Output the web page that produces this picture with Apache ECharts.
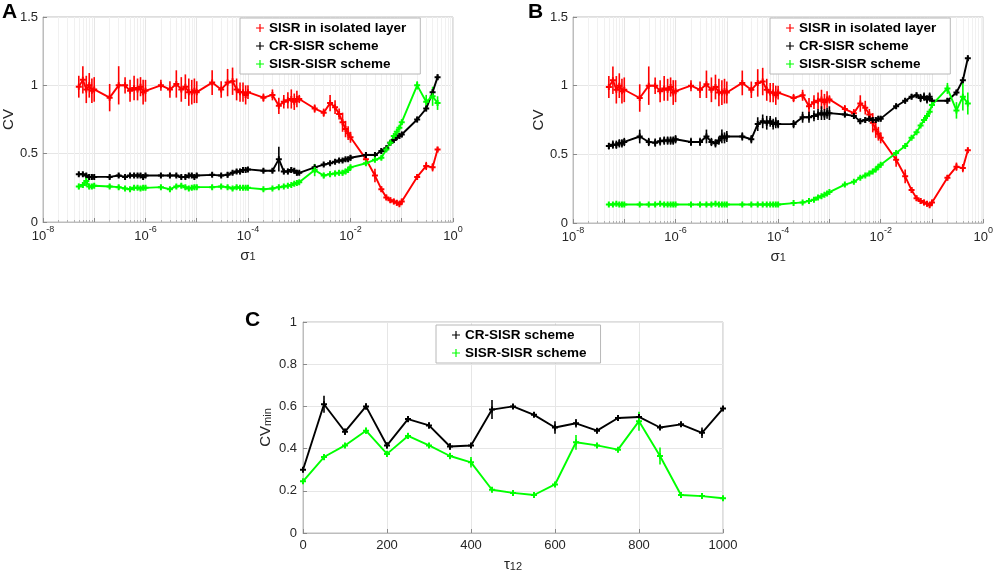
<!DOCTYPE html>
<html>
<head>
<meta charset="utf-8">
<title>CV vs sigma</title>
<script src="https://cdn.jsdelivr.net/npm/echarts/dist/echarts.min.js"></script>
<style>
html, body { margin: 0; padding: 0; background: #fff; }
#main { width: 996px; height: 580px; }
</style>
</head>
<body>
<div id="main"></div>
<script>
// noise intensity grid (panels A and B)
var sigma = [5e-8, 6e-8, 7e-8, 8e-8, 9e-8,
  1e-7, 2e-7, 3e-7, 4e-7, 5e-7, 6e-7, 7e-7, 8e-7, 9e-7,
  1e-6, 2e-6, 3e-6, 4e-6, 5e-6, 6e-6, 7e-6, 8e-6, 9e-6,
  1e-5, 2e-5, 3e-5, 4e-5, 5e-5, 6e-5, 7e-5, 8e-5, 9e-5,
  1e-4, 2e-4, 3e-4, 4e-4, 5e-4, 6e-4, 7e-4, 8e-4, 9e-4,
  1e-3, 2e-3, 3e-3, 4e-3, 5e-3, 6e-3, 7e-3, 8e-3, 9e-3,
  1e-2, 2e-2, 3e-2, 4e-2, 5e-2, 6e-2, 7e-2, 8e-2, 9e-2,
  1e-1, 2e-1, 3e-1, 4e-1, 5e-1];

// SISR in isolated layer (same in A and B)
var cvIso = [0.99, 1.04, 0.97, 1.00, 0.96,
  0.97, 0.91, 1.00, 1.00, 0.96, 0.98, 0.97, 0.99, 0.95,
  0.96, 1.00, 0.97, 1.01, 0.97, 0.99, 0.95, 0.95, 0.96,
  0.95, 1.02, 0.97, 1.02, 1.03, 0.97, 0.95, 0.95, 0.93,
  0.95, 0.91, 0.93, 0.85, 0.88, 0.89, 0.90, 0.88, 0.90,
  0.90, 0.83, 0.80, 0.87, 0.84, 0.79, 0.73, 0.68, 0.65,
  0.62, 0.46, 0.34, 0.24, 0.18, 0.16, 0.15, 0.14, 0.13,
  0.15, 0.33, 0.41, 0.40, 0.53];
var errIso = [0.08, 0.10, 0.10, 0.09, 0.09,
  0.09, 0.10, 0.14, 0.06, 0.08, 0.09, 0.08, 0.07, 0.09,
  0.08, 0.04, 0.06, 0.10, 0.09, 0.09, 0.10, 0.09, 0.09,
  0.08, 0.09, 0.06, 0.10, 0.10, 0.08, 0.07, 0.07, 0.07,
  0.05, 0.03, 0.04, 0.06, 0.05, 0.06, 0.07, 0.06, 0.06,
  0.03, 0.03, 0.03, 0.06, 0.05, 0.04, 0.07, 0.06, 0.05,
  0.04, 0.05, 0.05, 0.02, 0.02, 0.02, 0.02, 0.02, 0.01,
  0.02, 0.02, 0.03, 0.03, 0.02];

// panel A
var cvCrA = [0.35, 0.35, 0.34, 0.33, 0.33,
  0.33, 0.33, 0.34, 0.33, 0.34, 0.34, 0.34, 0.34, 0.33,
  0.34, 0.34, 0.34, 0.34, 0.33, 0.33, 0.34, 0.34, 0.33,
  0.34, 0.345, 0.34, 0.345, 0.36, 0.37, 0.37, 0.38, 0.38,
  0.385, 0.375, 0.375, 0.46, 0.37, 0.37, 0.38, 0.375, 0.36,
  0.36, 0.40, 0.42, 0.43, 0.44, 0.45, 0.45, 0.46, 0.46,
  0.47, 0.49, 0.49, 0.52, 0.54, 0.58, 0.60, 0.62, 0.63,
  0.64, 0.75, 0.83, 0.95, 1.06];
var errCrA = [0.015, 0.015, 0.015, 0.02, 0.015,
  0.015, 0.015, 0.015, 0.015, 0.015, 0.015, 0.015, 0.015, 0.015,
  0.015, 0.015, 0.015, 0.015, 0.015, 0.015, 0.015, 0.015, 0.015,
  0.015, 0.015, 0.015, 0.02, 0.015, 0.015, 0.02, 0.015, 0.015,
  0.015, 0.015, 0.015, 0.09, 0.02, 0.02, 0.02, 0.02, 0.02,
  0.015, 0.015, 0.015, 0.015, 0.015, 0.015, 0.015, 0.015, 0.015,
  0.02, 0.02, 0.02, 0.02, 0.02, 0.02, 0.02, 0.02, 0.02,
  0.02, 0.02, 0.02, 0.02, 0.02];
var cvSsA = [0.26, 0.27, 0.30, 0.26, 0.26,
  0.265, 0.26, 0.255, 0.245, 0.24, 0.25, 0.25, 0.245, 0.25,
  0.25, 0.255, 0.24, 0.26, 0.265, 0.255, 0.245, 0.25, 0.255,
  0.255, 0.255, 0.26, 0.255, 0.245, 0.255, 0.25, 0.25, 0.25,
  0.25, 0.24, 0.245, 0.255, 0.26, 0.265, 0.27, 0.28, 0.285,
  0.29, 0.38, 0.34, 0.35, 0.355, 0.36, 0.36, 0.37, 0.38,
  0.40, 0.43, 0.455, 0.47, 0.53, 0.58, 0.63, 0.66, 0.69,
  0.73, 1.00, 0.88, 0.92, 0.87];
var errSsA = [0.02, 0.02, 0.04, 0.02, 0.015,
  0.015, 0.015, 0.015, 0.015, 0.015, 0.015, 0.015, 0.015, 0.015,
  0.015, 0.015, 0.015, 0.015, 0.015, 0.015, 0.015, 0.015, 0.015,
  0.015, 0.015, 0.015, 0.015, 0.015, 0.015, 0.015, 0.015, 0.015,
  0.01, 0.01, 0.01, 0.01, 0.01, 0.01, 0.01, 0.01, 0.01,
  0.015, 0.045, 0.02, 0.02, 0.02, 0.02, 0.02, 0.02, 0.02,
  0.015, 0.015, 0.015, 0.015, 0.015, 0.015, 0.015, 0.015, 0.015,
  0.02, 0.03, 0.05, 0.07, 0.05];

// panel B
var cvCrB = [0.56, 0.57, 0.57, 0.58, 0.58,
  0.59, 0.63, 0.59, 0.585, 0.595, 0.60, 0.60, 0.60, 0.60,
  0.61, 0.59, 0.59, 0.63, 0.59, 0.58, 0.60, 0.63, 0.62,
  0.63, 0.63, 0.61, 0.72, 0.74, 0.73, 0.74, 0.72, 0.73,
  0.72, 0.72, 0.77, 0.77, 0.78, 0.79, 0.80, 0.79, 0.80,
  0.80, 0.79, 0.78, 0.74, 0.75, 0.76, 0.75, 0.75, 0.76,
  0.76, 0.85, 0.89, 0.92, 0.93, 0.91, 0.92, 0.90, 0.92,
  0.89, 0.89, 0.95, 1.04, 1.20];
var errCrB = [0.025, 0.03, 0.03, 0.03, 0.03,
  0.03, 0.05, 0.03, 0.03, 0.03, 0.03, 0.03, 0.03, 0.03,
  0.03, 0.03, 0.03, 0.05, 0.03, 0.03, 0.03, 0.05, 0.04,
  0.04, 0.03, 0.03, 0.05, 0.05, 0.05, 0.04, 0.04, 0.04,
  0.03, 0.03, 0.04, 0.04, 0.04, 0.04, 0.05, 0.04, 0.04,
  0.05, 0.02, 0.02, 0.02, 0.02, 0.02, 0.02, 0.02, 0.02,
  0.02, 0.02, 0.02, 0.02, 0.02, 0.03, 0.03, 0.03, 0.03,
  0.02, 0.02, 0.02, 0.02, 0.02];
var cvSsB = [0.135, 0.135, 0.14, 0.135, 0.135,
  0.135, 0.135, 0.135, 0.135, 0.14, 0.135, 0.135, 0.135, 0.135,
  0.135, 0.135, 0.135, 0.135, 0.135, 0.14, 0.135, 0.135, 0.135,
  0.135, 0.135, 0.135, 0.135, 0.135, 0.135, 0.135, 0.135, 0.135,
  0.135, 0.145, 0.15, 0.16, 0.17, 0.185, 0.195, 0.205, 0.215,
  0.225, 0.28, 0.30, 0.33, 0.345, 0.36, 0.375, 0.39, 0.41,
  0.425, 0.51, 0.56, 0.62, 0.66, 0.71, 0.75, 0.78, 0.81,
  0.86, 0.98, 0.82, 0.92, 0.87];
var errSsB = [0.008, 0.008, 0.008, 0.008, 0.008,
  0.008, 0.008, 0.008, 0.008, 0.008, 0.008, 0.008, 0.008, 0.008,
  0.008, 0.008, 0.008, 0.008, 0.008, 0.008, 0.008, 0.008, 0.008,
  0.008, 0.008, 0.008, 0.008, 0.008, 0.008, 0.008, 0.008, 0.008,
  0.008, 0.008, 0.008, 0.008, 0.008, 0.008, 0.008, 0.008, 0.008,
  0.008, 0.01, 0.01, 0.01, 0.01, 0.01, 0.01, 0.01, 0.01,
  0.01, 0.01, 0.01, 0.01, 0.01, 0.01, 0.01, 0.01, 0.015,
  0.02, 0.04, 0.06, 0.10, 0.08];

// panel C
var tau = [0, 50, 100, 150, 200, 250, 300, 350, 400, 450, 500,
  550, 600, 650, 700, 750, 800, 850, 900, 950, 1000];
var cvMinCr = [0.30, 0.61, 0.48, 0.60, 0.415, 0.54, 0.51, 0.41, 0.415, 0.585, 0.60,
  0.56, 0.50, 0.52, 0.485, 0.545, 0.55, 0.50, 0.515, 0.475, 0.59];
var errMinCr = [0.01, 0.04, 0.015, 0.015, 0.015, 0.015, 0.015, 0.015, 0.01, 0.045, 0.01,
  0.01, 0.03, 0.02, 0.01, 0.01, 0.01, 0.01, 0.01, 0.025, 0.01];
var cvMinSs = [0.245, 0.36, 0.415, 0.485, 0.375, 0.46, 0.415, 0.365, 0.335, 0.205, 0.19,
  0.18, 0.23, 0.43, 0.415, 0.395, 0.53, 0.365, 0.18, 0.175, 0.165];
var errMinSs = [0.01, 0.015, 0.01, 0.015, 0.015, 0.015, 0.01, 0.015, 0.025, 0.01, 0.01,
  0.01, 0.01, 0.035, 0.01, 0.01, 0.045, 0.04, 0.01, 0.01, 0.01];

var RED = '#ff0000', BLACK = '#000000', GREEN = '#00ff00';
var FONT = '"Liberation Sans", Arial, Helvetica, sans-serif';
var plusIcon = 'path://M3.4,0h1.2v3.4h3.4v1.2h-3.4v3.4h-1.2v-3.4h-3.4v-1.2h3.4z';
var plusMark = 'path://M2,0h2v2h2v2h-2v2h-2v-2h-2v-2h2z';

function pairs(xs, ys) {
  return xs.map(function (x, i) { return [x, ys[i]]; });
}
function triples(xs, ys, es) {
  return xs.map(function (x, i) { return [x, ys[i], es[i]]; });
}

function renderErr(params, api) {
  var x = api.value(0), y = api.value(1), e = api.value(2);
  var p1 = api.coord([x, y - e]);
  var p2 = api.coord([x, y + e]);
  return {
    type: 'line',
    shape: { x1: p1[0], y1: p1[1], x2: p2[0], y2: p2[1] },
    style: { stroke: api.visual('color'), lineWidth: 1.6 }
  };
}

function lineSeries(name, idx, xs, ys, color) {
  return {
    name: name, type: 'line', xAxisIndex: idx, yAxisIndex: idx,
    data: pairs(xs, ys),
    symbol: plusMark, symbolSize: 6, showSymbol: true,
    itemStyle: { color: color },
    lineStyle: { color: color, width: 1.9 },
    emphasis: { disabled: true }, silent: true
  };
}
function errSeries(idx, xs, ys, es, color) {
  return {
    type: 'custom', xAxisIndex: idx, yAxisIndex: idx,
    data: triples(xs, ys, es),
    encode: { x: 0, y: 1 },
    itemStyle: { color: color },
    renderItem: renderErr, silent: true
  };
}

var subRich = {
  a: { fontSize: 15, fontFamily: FONT, color: '#262626', verticalAlign: 'top', lineHeight: 15 },
  b: { fontSize: 11, fontFamily: FONT, color: '#262626', verticalAlign: 'bottom', lineHeight: 11, padding: [8, 0, 0, 0] }
};

function logAxis(idx) {
  return {
    type: 'log', gridIndex: idx, logBase: 10, min: 1e-8, max: 1,
    name: '{a|σ}{b|1}', nameLocation: 'middle', nameGap: 15,
    nameTextStyle: { color: '#262626', rich: subRich },
    axisLine: { show: true, lineStyle: { color: '#bdbdbd', width: 1 } },
    axisTick: { show: true, inside: true, length: 4, lineStyle: { color: '#8a8a8a' } },
    minorTick: { show: true, splitNumber: 9, length: 2, lineStyle: { color: '#b0b0b0' } },
    splitLine: { show: true, lineStyle: { color: '#e6e6e6', width: 1 } },
    minorSplitLine: { show: true, lineStyle: { color: '#f1f1f1', width: 1 } },
    axisLabel: {
      margin: 3, color: '#262626',
      formatter: function (v) {
        var e = Math.round(Math.log(v) / Math.LN10);
        return e % 2 === 0 ? '{b|10}{s|' + e + '}' : '';
      },
      rich: {
        b: { fontSize: 13, fontFamily: FONT, color: '#262626', verticalAlign: 'bottom', padding: [5, 0, 0, 0] },
        s: { fontSize: 9, fontFamily: FONT, color: '#262626', verticalAlign: 'top', lineHeight: 9 }
      }
    }
  };
}
function cvAxis(idx) {
  return {
    type: 'value', gridIndex: idx, min: 0, max: 1.5, interval: 0.5,
    name: 'CV', nameLocation: 'middle', nameGap: 24,
    nameTextStyle: { fontSize: 15, fontFamily: FONT, color: '#262626' },
    axisLine: { show: true, lineStyle: { color: '#bdbdbd', width: 1 } },
    axisTick: { show: true, inside: true, length: 4, lineStyle: { color: '#8a8a8a' } },
    splitLine: { show: true, lineStyle: { color: '#e6e6e6', width: 1 } },
    axisLabel: { margin: 5, fontSize: 13, fontFamily: FONT, color: '#262626' }
  };
}

var legendText = { fontSize: 13.5, fontWeight: 'bold', fontFamily: FONT, color: '#000' };
function legendBox(left, top, names) {
  return {
    orient: 'vertical', left: left, top: top,
    backgroundColor: '#fff', borderColor: '#b8b8b8', borderWidth: 1,
    padding: [3, 14, 3, 16], itemGap: 4, itemWidth: 8, itemHeight: 8, itemTextGap: 1,
    textStyle: legendText, selectedMode: false,
    data: names.map(function (n) { return { name: n, icon: plusIcon }; })
  };
}

var chart = echarts.init(document.getElementById('main'));
var option = {
  animation: false,
  backgroundColor: '#fff',
  textStyle: { fontFamily: FONT },
  graphic: [
    { type: 'text', left: 2, top: 2, style: { text: 'A', font: 'bold 21px ' + FONT, fill: '#000' } },
    { type: 'text', left: 528, top: 2, style: { text: 'B', font: 'bold 21px ' + FONT, fill: '#000' } },
    { type: 'text', left: 245, top: 310, style: { text: 'C', font: 'bold 21px ' + FONT, fill: '#000' } }
  ],
  grid: [
    { left: 42, top: 17, width: 411, height: 205, show: true, borderColor: '#bdbdbd', borderWidth: 1 },
    { left: 573, top: 17, width: 411, height: 206, show: true, borderColor: '#bdbdbd', borderWidth: 1 },
    { left: 303, top: 322, width: 420, height: 211, show: true, borderColor: '#bdbdbd', borderWidth: 1 }
  ],
  xAxis: [
    logAxis(0),
    logAxis(1),
    {
      type: 'value', gridIndex: 2, min: 0, max: 1000, interval: 200,
      name: '{a|τ}{b|12}', nameLocation: 'middle', nameGap: 24,
      nameTextStyle: { rich: subRich },
      axisLine: { show: true, lineStyle: { color: '#bdbdbd', width: 1 } },
      axisTick: { show: true, inside: true, length: 4, lineStyle: { color: '#8a8a8a' } },
      splitLine: { show: true, lineStyle: { color: '#e6e6e6', width: 1 } },
      axisLabel: {
        margin: 6, fontSize: 13, fontFamily: FONT, color: '#262626',
        formatter: function (v) { return String(v); }
      }
    }
  ],
  yAxis: [
    cvAxis(0),
    cvAxis(1),
    {
      type: 'value', gridIndex: 2, min: 0, max: 1, interval: 0.2,
      name: '{a|CV}{b|min}', nameLocation: 'middle', nameGap: 30,
      nameTextStyle: { rich: subRich },
      axisLine: { show: true, lineStyle: { color: '#bdbdbd', width: 1 } },
      axisTick: { show: true, inside: true, length: 4, lineStyle: { color: '#8a8a8a' } },
      splitLine: { show: true, lineStyle: { color: '#e6e6e6', width: 1 } },
      axisLabel: { margin: 6, fontSize: 13, fontFamily: FONT, color: '#262626' }
    }
  ],
  legend: [
    legendBox(240, 18, ['SISR in isolated layer', 'CR-SISR scheme', 'SISR-SISR scheme']),
    legendBox(770, 18, ['SISR in isolated layer', 'CR-SISR scheme', 'SISR-SISR scheme']),
    legendBox(436, 325, ['CR-SISR scheme', 'SISR-SISR scheme'])
  ],
  series: [
    lineSeries('SISR in isolated layer', 0, sigma, cvIso, RED),
    errSeries(0, sigma, cvIso, errIso, RED),
    lineSeries('CR-SISR scheme', 0, sigma, cvCrA, BLACK),
    errSeries(0, sigma, cvCrA, errCrA, BLACK),
    lineSeries('SISR-SISR scheme', 0, sigma, cvSsA, GREEN),
    errSeries(0, sigma, cvSsA, errSsA, GREEN),

    lineSeries('SISR in isolated layer', 1, sigma, cvIso, RED),
    errSeries(1, sigma, cvIso, errIso, RED),
    lineSeries('CR-SISR scheme', 1, sigma, cvCrB, BLACK),
    errSeries(1, sigma, cvCrB, errCrB, BLACK),
    lineSeries('SISR-SISR scheme', 1, sigma, cvSsB, GREEN),
    errSeries(1, sigma, cvSsB, errSsB, GREEN),

    lineSeries('CR-SISR scheme', 2, tau, cvMinCr, BLACK),
    errSeries(2, tau, cvMinCr, errMinCr, BLACK),
    lineSeries('SISR-SISR scheme', 2, tau, cvMinSs, GREEN),
    errSeries(2, tau, cvMinSs, errMinSs, GREEN)
  ]
};
chart.setOption(option);
</script>
</body>
</html>
